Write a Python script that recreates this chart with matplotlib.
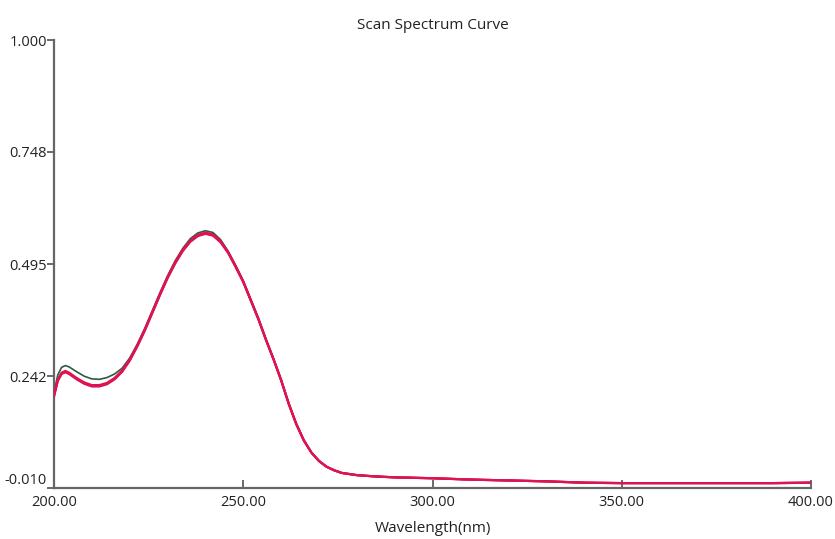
import numpy as np
import matplotlib as mpl
import matplotlib.pyplot as plt

mpl.rcParams['font.family'] = ['Open Sans', 'DejaVu Sans']

# wavelength grid (nm) for the part where the scans differ
wl_head = [200, 201, 202, 203, 204, 206, 208, 210, 212, 214, 216, 218, 220, 222,
           224, 226, 228, 230, 232, 234, 236, 238, 240, 242, 244, 246, 248, 250,
           252, 254, 256, 258, 260, 262, 264, 266, 268, 270, 272, 274, 276]
# common flat tail, all scans sit on top of each other here
wl_tail = [280, 285, 290, 300, 310, 320, 330, 340, 350, 360, 370, 380, 390, 400]
abs_tail = [0.019, 0.016, 0.014, 0.012, 0.009, 0.007, 0.005, 0.002, 0.001,
            0.001, 0.001, 0.001, 0.001, 0.002]

scan_green = [0.205, 0.245, 0.262, 0.266, 0.263, 0.252, 0.242, 0.236, 0.235, 0.239,
              0.247, 0.260, 0.283, 0.314, 0.350, 0.390, 0.430, 0.468, 0.502, 0.530,
              0.552, 0.565, 0.570, 0.566, 0.550, 0.524, 0.492, 0.457, 0.415, 0.372,
              0.325, 0.281, 0.234, 0.181, 0.135, 0.098, 0.070, 0.051, 0.038, 0.030, 0.024]
scan_red1 = [0.200, 0.235, 0.250, 0.254, 0.250, 0.238, 0.228, 0.222, 0.222, 0.227,
             0.238, 0.255, 0.280, 0.312, 0.348, 0.388, 0.428, 0.466, 0.499, 0.527,
             0.548, 0.561, 0.566, 0.562, 0.547, 0.522, 0.490, 0.456, 0.414, 0.372,
             0.325, 0.281, 0.234, 0.181, 0.135, 0.098, 0.070, 0.051, 0.038, 0.030, 0.024]
scan_red2 = [0.196, 0.231, 0.247, 0.251, 0.247, 0.235, 0.225, 0.219, 0.219, 0.224,
             0.235, 0.252, 0.277, 0.309, 0.345, 0.385, 0.425, 0.463, 0.496, 0.524,
             0.545, 0.558, 0.563, 0.559, 0.544, 0.520, 0.488, 0.454, 0.412, 0.370,
             0.324, 0.280, 0.233, 0.180, 0.134, 0.097, 0.070, 0.051, 0.038, 0.030, 0.024]
scan_red3 = [0.198, 0.233, 0.248, 0.252, 0.248, 0.236, 0.226, 0.220, 0.220, 0.225,
             0.236, 0.253, 0.278, 0.310, 0.346, 0.386, 0.426, 0.464, 0.497, 0.525,
             0.546, 0.559, 0.564, 0.560, 0.545, 0.521, 0.489, 0.455, 0.413, 0.371,
             0.324, 0.280, 0.233, 0.180, 0.134, 0.097, 0.070, 0.051, 0.038, 0.030, 0.024]

x_ticks = [200, 250, 300, 350, 400]
y_ticks = [-0.010, 0.242, 0.495, 0.748, 1.000]

wl = np.array(wl_head + wl_tail)

fig = plt.figure(figsize=(8.35, 5.39), dpi=100)
ax = fig.add_axes([54/835, 51/539, 757/835, 448/539])

ax.plot(wl, scan_green + abs_tail, color='#2f5a3c', lw=1.2, zorder=2)
for s in (scan_red1, scan_red2, scan_red3):
    ax.plot(wl, s + abs_tail, color='#dc1452', lw=1.6, zorder=3)

ax.set_xlim(200, 400)
ax.set_ylim(-0.010, 1.000)
ax.set_xticks(x_ticks)
ax.set_xticklabels([f'{v:.2f}' for v in x_ticks])
ax.set_yticks(y_ticks)
ax.set_yticklabels([f'{v:.3f}' for v in y_ticks])

for side in ('top', 'right'):
    ax.spines[side].set_visible(False)
for side in ('left', 'bottom'):
    ax.spines[side].set_color('#666666')
    ax.spines[side].set_linewidth(1.6)

ax.tick_params(axis='x', direction='in', length=6, width=1.2, color='#505050',
               labelsize=10.5, pad=5, labelcolor='#222222')
ax.tick_params(axis='y', direction='out', length=5, width=1.2, color='#505050',
               labelsize=10.5, pad=0, labelcolor='#222222')
ax.get_yticklabels()[0].set_verticalalignment('bottom')

ax.set_title('Scan Spectrum Curve', fontsize=11, color='#222222', pad=8)
ax.set_xlabel('Wavelength(nm)', fontsize=11, color='#222222', labelpad=8)

fig.savefig('out.png', dpi=100)
